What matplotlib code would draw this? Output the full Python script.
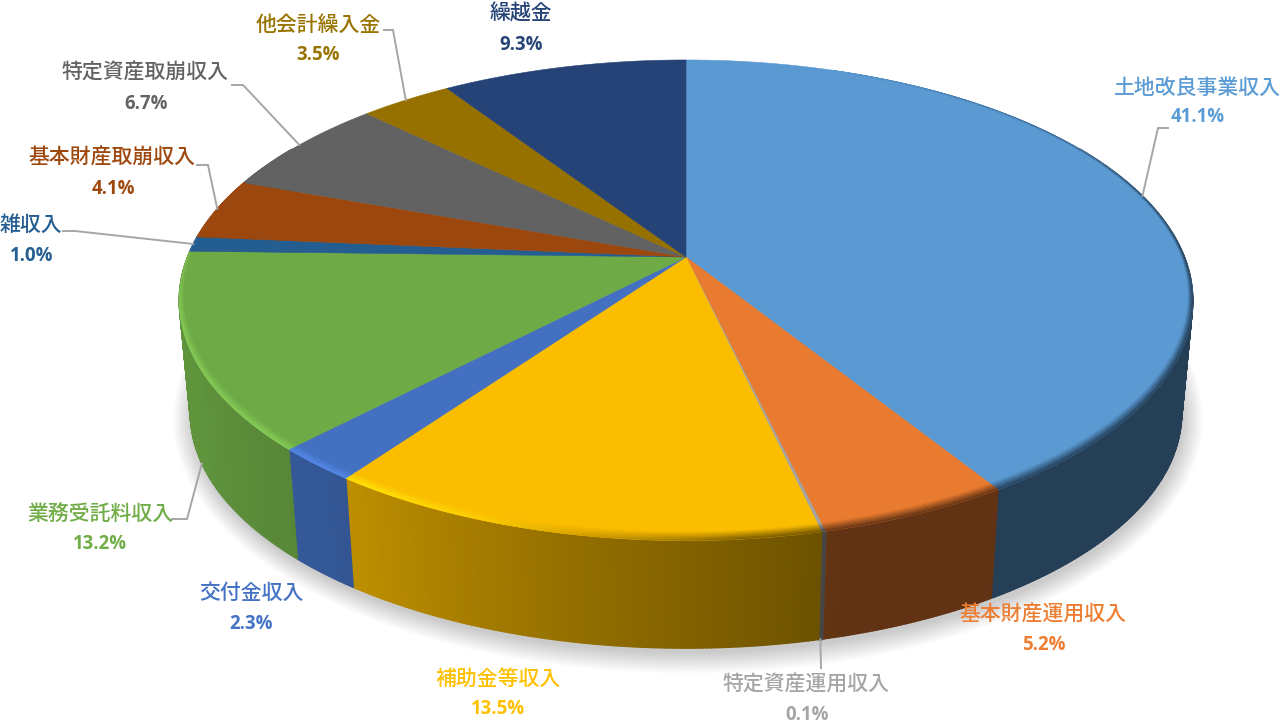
import numpy as np
import matplotlib
matplotlib.use("Agg")
import matplotlib.pyplot as plt
from matplotlib.collections import PolyCollection
from matplotlib.colors import to_rgb

plt.rcParams['font.family'] = ['Noto Sans CJK JP', 'DejaVu Sans']

# ---- data ----
categories = ['土地改良事業収入', '基本財産運用収入', '特定資産運用収入', '補助金等収入', '交付金収入',
              '業務受託料収入', '雑収入', '基本財産取崩収入', '特定資産取崩収入', '他会計繰入金', '繰越金']
values = [41.1, 5.2, 0.1, 13.5, 2.3, 13.2, 1.0, 4.1, 6.7, 3.5, 9.3]
colors = ['#5B9BD5', '#ED7D31', '#A5A5A5', '#FFC000', '#4472C4', '#70AD47',
          '#255E91', '#9E480E', '#636363', '#997300', '#264478']
percent_labels = ['41.1%', '5.2%', '0.1%', '13.5%', '2.3%', '13.2%', '1.0%', '4.1%', '6.7%', '3.5%', '9.3%']

# ---- layout ----
CX, CY, A, B, K = 686.0, 257.0, 498.5, 232.5, 0.18
SHRINK, DROP = 0.978, 119.5
name_xy = [(1197, 87.5), (1043, 614.5), (806, 684.5), (498, 678.5), (251, 592.5), (100, 513.5),
           (31, 224.5), (112, 157.5), (145, 72.5), (318, 24.5), (521, 13.5)]
pct_xy = [(1198, 117), (1044, 645), (807, 715), (498, 709), (251, 624), (100, 544),
          (32, 256), (113, 189), (146, 104), (318, 55), (521, 45)]
leaders = {0: [(1168, 128), (1158, 128)], 2: [(821, 668)], 5: [(172, 519), (187, 519)],
           6: [(63, 231), (75, 231)], 7: [(197, 165), (208, 165)],
           8: [(232, 85), (243, 85)], 9: [(384, 30), (393, 30)]}
leader_on_base = {2, 5}


def top(theta, r=1.0):
    """Perspective projection of a point on the tilted pie's top face (theta clockwise from 12 o'clock)."""
    t = np.radians(theta)
    d = 1 + K * r * np.cos(t)
    return CX + A * r * np.sin(t) / d, CY - B * r * np.cos(t) / d


def base(theta, r=1.0):
    x, y = top(theta, r)
    return CX + SHRINK * (x - CX), SHRINK * y + DROP


def side_factor(th):
    return float(np.interp(th, [0, 165, 218, 245, 360], [0.40, 0.41, 0.76, 0.85, 0.85]))


fig = plt.figure(figsize=(12.87, 7.28), dpi=100)
ax = fig.add_axes([0, 0, 1, 1])
ax.set_xlim(0, 1287)
ax.set_ylim(728, 0)
ax.axis('off')

edges = 3.6 * np.concatenate([[0], np.cumsum(values)])

# soft shadow below the pie
th_all = np.linspace(0, 360, 361)
bx, by = base(th_all)
for g in np.linspace(24, 0, 13):
    sx = CX + (bx - CX) * (1 + g / 620) + 2
    sy = 300 * SHRINK + DROP + (by - (300 * SHRINK + DROP)) * (1 + g / 280) + 5
    ax.fill(sx, sy, color='#000000', alpha=0.014, lw=0, zorder=1)

# side wall
for i, c in enumerate(colors):
    rgb = np.array(to_rgb(c))
    ths = np.arange(edges[i], edges[i + 1] + 0.5, 0.5)
    ths[-1] = min(ths[-1], edges[i + 1])
    polys, cols = [], []
    for a, b in zip(ths[:-1], ths[1:]):
        if b < 60 or a > 300:
            continue
        xa, ya = top(a); xb, yb = top(b)
        xc, yc = base(b); xd, yd = base(a)
        polys.append([(xa, ya), (xb, yb), (xc, yc), (xd, yd)])
        cols.append(rgb * side_factor((a + b) / 2))
    if polys:
        ax.add_collection(PolyCollection(polys, facecolors=cols, edgecolors=cols, linewidths=1.0, zorder=2))

# top face
for i, c in enumerate(colors):
    ths = np.linspace(edges[i], edges[i + 1], max(3, int(values[i] * 12)))
    x, y = top(ths)
    ax.fill(np.r_[CX, x], np.r_[CY, y], color=np.array(to_rgb(c)) * 0.985, lw=0.4,
            ec=np.array(to_rgb(c)) * 0.985, zorder=3)

# bevelled rim of the top face
N = 7
for i, c in enumerate(colors):
    rgb = np.array(to_rgb(c)) * 0.985
    ths = np.arange(edges[i], edges[i + 1] + 0.5, 0.5)
    ths[-1] = min(ths[-1], edges[i + 1])
    polys, cols = [], []
    for a, b in zip(ths[:-1], ths[1:]):
        m = (a + b) / 2
        if m < 20 or m > 290:
            continue
        w = 0.006 + 0.02 * max(0.0, -np.cos(np.radians(m)))
        dark = np.array(to_rgb(c)) * side_factor(m)
        light = np.clip(rgb * 1.16 + 0.03, 0, 1)
        mix_l = float(np.interp(m, [190, 212, 255, 285], [0, 1, 1, 0]))
        mix_d = float(np.interp(m, [20, 90, 175, 200], [0, 1, 1, 0]))
        for j in range(N):
            r0, r1 = 1 - w * (1 - j / N), 1 - w * (1 - (j + 1) / N)
            p = [top(a, r0), top(b, r0), top(b, r1), top(a, r1)]
            t = (j + 0.5) / N
            polys.append(p)
            cols.append(rgb + (dark - rgb) * t * mix_d + (light - rgb) * t * mix_l)
    if polys:
        ax.add_collection(PolyCollection(polys, facecolors=cols, edgecolors=cols, linewidths=0.3, zorder=4))

# leader lines
mids = (edges[:-1] + edges[1:]) / 2
for i, pts in leaders.items():
    end = base(mids[i]) if i in leader_on_base else top(mids[i])
    xs = [p[0] for p in pts] + [end[0]]
    ys = [p[1] for p in pts] + [end[1]]
    ax.plot(xs, ys, color='#A6A6A6', lw=1.4, solid_joinstyle='miter', zorder=5)

# labels
for i, name in enumerate(categories):
    ax.text(*name_xy[i], name, color=colors[i], fontsize=15, ha='center', va='center',
            weight='medium', zorder=6)
    ax.text(*pct_xy[i], percent_labels[i], color=colors[i], fontsize=13.4, ha='center', va='center',
            family=['Open Sans', 'DejaVu Sans'], weight='bold', zorder=6)

fig.savefig('out.png', dpi=100)
